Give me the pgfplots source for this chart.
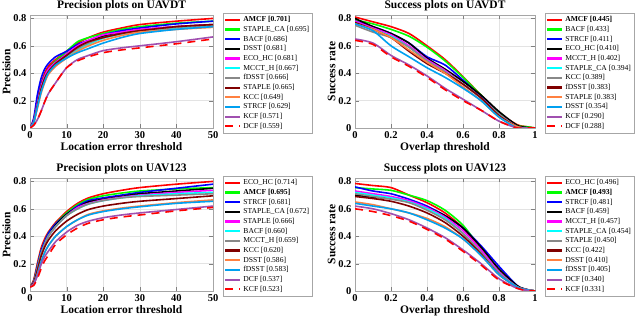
\documentclass[border=0pt]{standalone}
\usepackage{fontspec}
\setmainfont{Liberation Serif}
\usepackage{pgfplots}
\usepackage{pgfplotstable}
\pgfplotsset{compat=1.18}

\definecolor{c1}{HTML}{FF0000}
\definecolor{c2}{HTML}{00FF00}
\definecolor{c3}{HTML}{0000FF}
\definecolor{c4}{HTML}{000000}
\definecolor{c5}{HTML}{FF00FF}
\definecolor{c6}{HTML}{00FFFF}
\definecolor{c7}{HTML}{888888}
\definecolor{c8}{HTML}{800000}
\definecolor{c9}{HTML}{FF8040}
\definecolor{c10}{HTML}{00A0F0}
\definecolor{c11}{HTML}{A050B0}

% precision, UAVDT (ranked order)
\pgfplotstableread{
x  r1   r2   r3   r4   r5   r6   r7   r8   r9   r10  r11  r12
0  0    0    0    0    0    0    0    0    0    0    0    0
1  .06  .05  .07  .05  .05  .04  .04  .04  .04  .04  .02  .02
2  .20  .18  .24  .18  .18  .16  .16  .16  .14  .15  .06  .06
3  .32  .30  .36  .30  .30  .28  .28  .28  .25  .26  .12  .12
4  .40  .38  .43  .38  .38  .36  .36  .36  .33  .34  .19  .19
5  .45  .43  .47  .43  .43  .41  .41  .41  .39  .40  .25  .25
7  .50  .49  .52  .48  .48  .46  .47  .47  .45  .46  .33  .33
10 .56  .56  .56  .54  .54  .52  .53  .53  .51  .51  .44  .44
13 .62  .63  .61  .59  .60  .57  .58  .59  .56  .55  .50  .49
16 .66  .66  .64  .63  .64  .61  .62  .63  .60  .58  .53  .52
20 .70  .69  .68  .67  .68  .655 .66  .66  .64  .62  .565 .55
25 .73  .72  .71  .695 .70  .685 .69  .69  .675 .66  .585 .57
30 .755 .74  .73  .715 .72  .705 .71  .71  .70  .69  .60  .585
40 .78  .765 .76  .74  .74  .73  .735 .74  .72  .72  .63  .615
50 .80  .78  .78  .755 .755 .745 .75  .755 .735 .74  .665 .65
}\precA

% success, UAVDT
\pgfplotstableread{
x   r1   r2   r3   r4   r5   r6   r7   r8   r9   r10  r11  r12
0   .81  .79  .78  .80  .78  .77  .75  .77  .76  .76  .65  .64
.1  .775 .76  .74  .74  .73  .72  .70  .72  .72  .71  .62  .61
.2  .74  .72  .69  .69  .68  .67  .66  .66  .66  .60  .53  .52
.3  .69  .67  .62  .62  .60  .59  .59  .56  .57  .52  .46  .45
.4  .60  .59  .52  .51  .50  .49  .49  .47  .48  .44  .38  .37
.5  .50  .49  .46  .43  .42  .41  .41  .40  .40  .37  .29  .28
.6  .375 .37  .35  .34  .32  .32  .32  .32  .30  .29  .21  .20
.7  .24  .24  .23  .24  .22  .22  .22  .22  .20  .20  .13  .13
.8  .11  .11  .10  .12  .10  .09  .10  .09  .08  .08  .05  .05
.9  .025 .02  .01  .02  .01  .01  .01  .01  .01  .0   0    0
.95 .01  .01  0    .005 0    0    0    0    0    0    0    0
1   0    0    0    0    0    0    0    0    0    0    0    0
}\succA

% precision, UAV123
\pgfplotstableread{
x  r1   r2   r3   r4   r5   r6   r7   r8   r9   r10  r11  r12
0  .03  .03  .03  .03  .03  .03  .03  .03  .03  .03  .03  .03
1  .08  .07  .07  .06  .06  .06  .06  .06  .05  .05  .05  .04
2  .20  .18  .18  .16  .16  .16  .16  .15  .12  .12  .11  .09
3  .31  .29  .29  .27  .27  .27  .27  .25  .21  .21  .19  .16
4  .38  .36  .36  .34  .34  .34  .34  .32  .28  .28  .25  .22
5  .43  .42  .42  .40  .40  .40  .40  .37  .33  .33  .29  .26
7  .50  .49  .49  .48  .47  .47  .47  .44  .40  .40  .36  .34
10 .58  .57  .56  .56  .55  .55  .55  .51  .47  .47  .43  .41
13 .64  .63  .62  .61  .61  .60  .60  .56  .52  .52  .48  .46
16 .68  .67  .66  .65  .64  .635 .635 .595 .56  .555 .51  .495
20 .71  .695 .68  .67  .665 .66  .66  .62  .585 .58  .535 .52
25 .735 .715 .70  .69  .685 .68  .68  .64  .605 .60  .555 .54
30 .755 .73  .72  .71  .70  .695 .69  .655 .62  .615 .57  .555
40 .78  .745 .75  .73  .72  .71  .70  .675 .645 .64  .595 .585
50 .80  .755 .78  .75  .735 .72  .71  .695 .665 .655 .62  .61
}\precB

% success, UAV123
\pgfplotstableread{
x   r1   r2   r3   r4   r5   r6   r7   r8   r9   r10  r11  r12
0   .785 .755 .76  .70  .73  .72  .71  .69  .65  .64  .62  .60
.1  .77  .745 .73  .685 .71  .70  .69  .675 .63  .62  .60  .58
.2  .755 .735 .71  .675 .69  .68  .67  .655 .60  .60  .565 .55
.3  .70  .70  .67  .65  .66  .65  .645 .62  .57  .57  .52  .51
.4  .645 .66  .62  .61  .61  .60  .59  .57  .53  .52  .46  .45
.5  .57  .59  .55  .55  .54  .53  .52  .50  .47  .46  .39  .38
.6  .46  .48  .46  .46  .44  .42  .42  .40  .38  .38  .30  .29
.7  .30  .31  .33  .32  .30  .28  .28  .27  .26  .26  .20  .19
.8  .14  .14  .18  .16  .14  .13  .13  .12  .12  .12  .09  .08
.9  .035 .03  .04  .04  .03  .03  .03  .03  .03  .03  .02  .02
.95 .012 .01  .012 .012 .01  .01  .01  .01  .01  .01  .005 .005
1   0    0    0    0    0    0    0    0    0    0    0    0
}\succB

\pgfplotsset{
  trk/.style={
    scale only axis, width=183pt, height=113pt,
    ymin=0, ymax=0.825,
    ytick={0,0.2,0.4,0.6,0.8},
    tick align=inside, axis line style={gray!70},
    grid=major, major grid style={gray!22},
    tick label style={font=\fontsize{10.5}{12}\selectfont\bfseries},
    /pgf/number format/assume math mode=true,
    label style={font=\fontsize{11.5}{13}\selectfont\bfseries},
    title style={font=\fontsize{11.5}{13}\selectfont\bfseries, yshift=-5pt},
    ylabel shift=-4pt, xlabel shift=-3pt,
    legend style={font=\fontsize{7.6}{8.6}\selectfont, draw=gray!70, fill=white,
      at={(1.055,1.02)}, anchor=north west, inner xsep=1pt, inner ysep=1.5pt,
      row sep=-1.1pt, cells={anchor=west}},
    legend image code/.code={\draw[##1, line width=2.2pt, sharp plot] (0pt,0pt) -- (15pt,0pt);},
    every axis plot/.append style={line width=1.6pt, smooth, tension=0.45, no marks},
  },
  prec/.style={trk, xmin=0, xmax=50, xtick={0,10,...,50},
    xlabel={Location error threshold}, ylabel={Precision}},
  succ/.style={trk, xmin=0, xmax=1, xtick={0,0.2,...,1},
    xlabel={Overlap threshold}, ylabel={Success rate}},
}

\newcommand\lines[1]{%
  \addplot[c1] table[x=x,y=r1]{#1};
  \addplot[c2] table[x=x,y=r2]{#1};
  \addplot[c3] table[x=x,y=r3]{#1};
  \addplot[c4] table[x=x,y=r4]{#1};
  \addplot[c5] table[x=x,y=r5]{#1};
  \addplot[c6] table[x=x,y=r6]{#1};
  \addplot[c7] table[x=x,y=r7]{#1};
  \addplot[c8] table[x=x,y=r8]{#1};
  \addplot[c9] table[x=x,y=r9]{#1};
  \addplot[c10] table[x=x,y=r10]{#1};
  \addplot[c11] table[x=x,y=r11]{#1};
  \addplot[c1, dash pattern=on 8pt off 6pt] table[x=x,y=r12]{#1};
}

\begin{document}
\begin{tikzpicture}[x=1pt,y=1pt]
\path[use as bounding box] (0,0) rectangle (640,324);

\begin{axis}[prec, at={(30pt,196pt)}, anchor=south west, title={Precision plots on UAVDT}]
\lines{\precA}
\legend{\textbf{AMCF [0.701]}, STAPLE\_CA [0.695], BACF [0.686], DSST [0.681],
  ECO\_HC [0.681], MCCT\_H [0.667], fDSST [0.666], STAPLE [0.665], KCC [0.649],
  STRCF [0.629], KCF [0.571], DCF [0.559]}
\end{axis}

\begin{axis}[succ, at={(355pt,196pt)}, anchor=south west, width=180pt, title={Success plots on UAVDT}]
\lines{\succA}
\legend{\textbf{AMCF [0.445]}, BACF [0.433], STRCF [0.411], ECO\_HC [0.410],
  MCCT\_H [0.402], STAPLE\_CA [0.394], KCC [0.389], fDSST [0.383], STAPLE [0.383],
  DSST [0.354], KCF [0.290], DCF [0.288]}
\end{axis}

\begin{axis}[prec, at={(30pt,33pt)}, anchor=south west, title={Precision plots on UAV123}]
\lines{\precB}
\legend{ECO\_HC [0.714], \textbf{AMCF [0.695]}, STRCF [0.681], STAPLE\_CA [0.672],
  STAPLE [0.666], BACF [0.660], MCCT\_H [0.659], KCC [0.620], DSST [0.586],
  fDSST [0.583], DCF [0.537], KCF [0.523]}
\end{axis}

\begin{axis}[succ, at={(355pt,33pt)}, anchor=south west, width=180pt, title={Success plots on UAV123}]
\lines{\succB}
\legend{ECO\_HC [0.496], \textbf{AMCF [0.493]}, STRCF [0.481], BACF [0.459],
  MCCT\_H [0.457], STAPLE\_CA [0.454], STAPLE [0.450], KCC [0.422], DSST [0.410],
  fDSST [0.405], DCF [0.340], KCF [0.331]}
\end{axis}
\end{tikzpicture}
\end{document}
